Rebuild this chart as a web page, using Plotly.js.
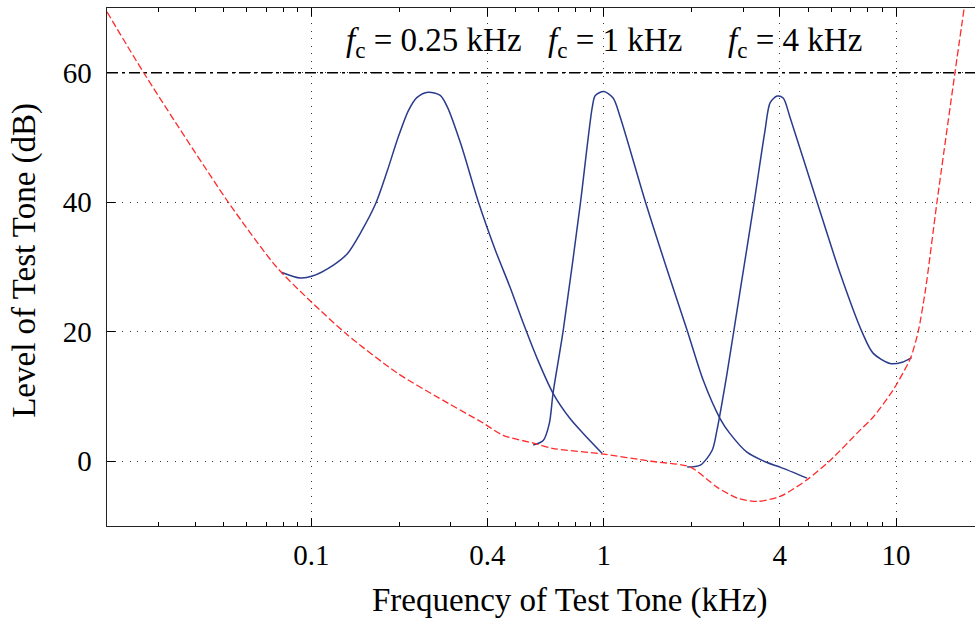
<!DOCTYPE html>
<html>
<head>
<meta charset="utf-8">
<script src="https://cdn.plot.ly/plotly-3.0.1.min.js"></script>
<style>html,body{margin:0;padding:0;background:#fff;overflow:hidden}#chart{width:975px;height:619px}</style>
</head>
<body>
<div id="chart"></div>
<script>
// Absolute threshold (red dashed)
const thrFreq  = [0.02, 0.0267, 0.052, 0.076, 0.1, 0.133, 0.197, 0.27, 0.387, 0.453, 0.575, 0.667, 1.0, 1.45, 1.98, 2.44, 2.87, 3.36, 4.03, 4.98, 5.96, 7.53, 8.34, 9.77, 11.2, 11.9, 12.6, 13.8, 15.9, 17.1];
const thrLevel = [69.4, 60, 40, 30.0, 24.6, 19.5, 13.6, 9.9, 5.9, 4.0, 2.8, 2.0, 1.1, 0.0, -0.9, -4.0, -5.7, -6.2, -5.4, -2.8, 0.15, 4.8, 6.8, 11.0, 15.9, 20, 26.4, 40, 60, 70];

// Masking curve, fc = 0.25 kHz
const m025Freq  = [0.0789, 0.0917, 0.1008, 0.119, 0.133, 0.147, 0.166, 0.182, 0.198, 0.215, 0.230, 0.251, 0.276, 0.292, 0.324, 0.373, 0.426, 0.479, 0.531, 0.593, 0.671, 0.767, 0.851, 0.989];
const m025Level = [29.2, 28.3, 28.6, 30.3, 32.1, 35.2, 39.8, 44.9, 50.0, 54.2, 56.2, 57.0, 56.5, 54.7, 49.1, 40.0, 32.6, 26.8, 21.3, 15.8, 10.5, 6.6, 4.3, 1.2];

// Masking curve, fc = 1 kHz
const m1Freq  = [0.574, 0.621, 0.652, 0.671, 0.727, 0.832, 0.914, 0.936, 1.0, 1.077, 1.14, 1.39, 1.65, 1.93, 2.19, 2.50, 2.70, 3.09, 3.62, 4.01, 4.96];
const m1Level = [2.5, 3.2, 5.9, 10.5, 20.2, 39.8, 54.7, 56.5, 57.1, 56.1, 53.1, 40.0, 29.5, 20.2, 12.5, 6.6, 4.3, 1.4, -0.2, -0.9, -2.6];

// Masking curve, fc = 4 kHz
const m4Freq  = [1.93, 2.14, 2.35, 2.44, 2.64, 2.93, 3.25, 3.56, 3.71, 3.92, 4.11, 4.34, 5.37, 6.44, 7.66, 8.34, 9.53, 10.5, 11.3];
const m4Level = [-0.9, -0.6, 1.7, 4.8, 13.5, 26.4, 39.2, 51.0, 55.4, 56.4, 56.1, 53.1, 40.0, 29.0, 19.9, 16.7, 15.1, 15.3, 16.0];

// Masker level reference line
const refFreq  = [0.02, 20];
const refLevel = [60, 60];

// Tick labels
const xTickVals = [0.1, 0.4, 1, 4, 10];
const xTickText = ['0.1', '0.4', '1', '4', '10'];
const yTickVals = [0, 20, 40, 60];
const yTickText = ['0', '20', '40', '60'];

// Text labels
const labelText  = ['<i>f</i><sub>c</sub> = 0.25 kHz', '<i>f</i><sub>c</sub> = 1 kHz', '<i>f</i><sub>c</sub> = 4 kHz'];
const labelFreq  = [0.262, 1.09, 4.52];
const labelLevel = [64.7, 64.7, 64.7];
const xTitle = 'Frequency of Test Tone (kHz)';
const yTitle = 'Level of Test Tone (dB)';

const minorVals = [];
[0.01, 0.1, 1, 10].forEach(d => { for (let k = 2; k <= 9; k++) minorVals.push(k * d); });

const FONT = '"Liberation Serif", "DejaVu Serif", serif';
const blue = '#2a3b8c';
const red = '#ff2b2b';
const xRange = [Math.log10(0.02), 1.27];

const traces = [
  {x: refFreq, y: refLevel, mode: 'lines', line: {color: '#000', width: 1.3, dash: '11px,4px,3px,4px'}, hoverinfo: 'skip'},
  {x: m025Freq, y: m025Level, mode: 'lines', line: {color: blue, width: 1.5, shape: 'spline', smoothing: 0.8}},
  {x: m1Freq, y: m1Level, mode: 'lines', line: {color: blue, width: 1.5, shape: 'spline', smoothing: 0.8}},
  {x: m4Freq, y: m4Level, mode: 'lines', line: {color: blue, width: 1.5, shape: 'spline', smoothing: 0.8}},
  {x: thrFreq, y: thrLevel, mode: 'lines', line: {color: red, width: 1.3, dash: '7px,3px', shape: 'spline', smoothing: 0.7}},
  // invisible trace to activate the minor-tick axis
  {x: refFreq, y: refLevel, xaxis: 'x2', yaxis: 'y', mode: 'lines', line: {width: 0}, opacity: 0, hoverinfo: 'skip'}
];

const annotations = labelText.map((t, i) => ({
  x: Math.log10(labelFreq[i]), y: labelLevel[i], xref: 'x', yref: 'y',
  text: t, showarrow: false, xanchor: 'center', yanchor: 'middle',
  font: {family: FONT, size: 33, color: '#000'}
}));
annotations.push({
  x: 0.533, y: -0.143, xref: 'paper', yref: 'paper', text: xTitle, showarrow: false,
  xanchor: 'center', yanchor: 'middle', font: {family: FONT, size: 33, color: '#000'}
});
annotations.push({
  x: -0.095, y: 0.513, xref: 'paper', yref: 'paper', text: yTitle, showarrow: false, textangle: -90,
  xanchor: 'center', yanchor: 'middle', font: {family: FONT, size: 33, color: '#000'}
});

const layout = {
  width: 975, height: 619,
  margin: {l: 107, r: 0, t: 8, b: 93, pad: 0},
  paper_bgcolor: '#fff', plot_bgcolor: '#fff',
  showlegend: false,
  font: {family: FONT, color: '#000'},
  xaxis: {
    type: 'log', range: xRange,
    tickmode: 'array', tickvals: xTickVals, ticktext: xTickText,
    ticks: 'inside', ticklen: 8, tickwidth: 1, tickcolor: '#000',
    ticklabelstandoff: 3,
    showline: true, linecolor: '#222', linewidth: 1.4, mirror: 'allticks',
    showgrid: true, gridcolor: '#333', griddash: '1px,6.5px', gridwidth: 1,
    zeroline: false,
    tickfont: {family: FONT, size: 29, color: '#000'}
  },
  xaxis2: {
    type: 'log', range: xRange, overlaying: 'x', anchor: 'y', side: 'bottom',
    tickmode: 'array', tickvals: minorVals, showticklabels: false,
    ticks: 'inside', ticklen: 4, tickwidth: 1, tickcolor: '#000',
    showline: true, linecolor: '#222', linewidth: 1.4, mirror: 'allticks',
    showgrid: false, zeroline: false
  },
  yaxis: {
    range: [-10, 70],
    tickmode: 'array', tickvals: yTickVals, ticktext: yTickText,
    ticks: 'inside', ticklen: 8, tickwidth: 1, tickcolor: '#000',
    ticklabelstandoff: 8,
    showline: true, linecolor: '#222', linewidth: 1.4, mirror: false,
    showgrid: true, gridcolor: '#333', griddash: '1px,6.5px', gridwidth: 1,
    zeroline: false,
    tickfont: {family: FONT, size: 29, color: '#000'}
  },
  annotations: annotations
};

Plotly.newPlot('chart', traces, layout, {displayModeBar: false, staticPlot: true});
</script>
</body>
</html>
